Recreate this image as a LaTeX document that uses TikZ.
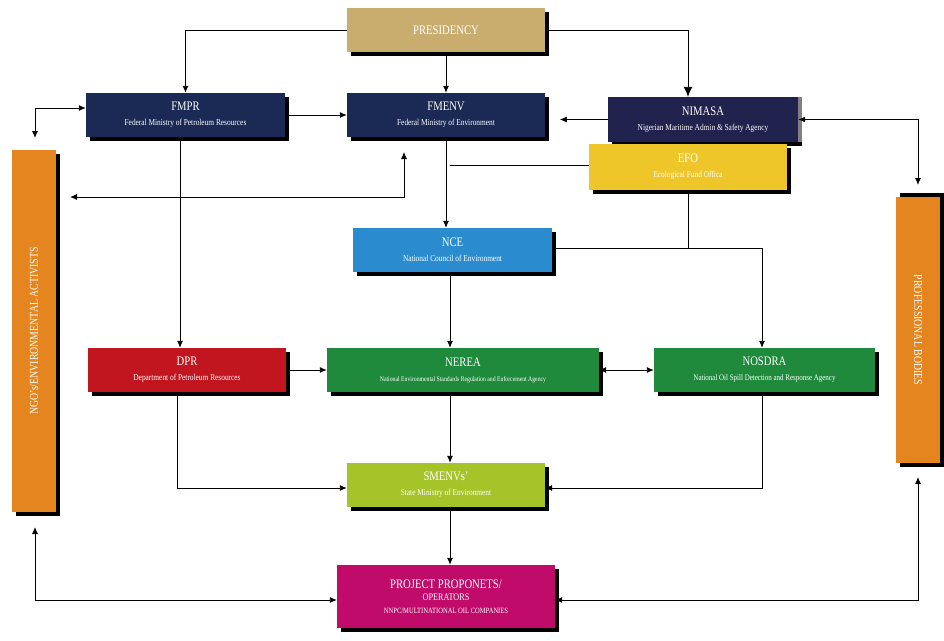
\documentclass[tikz,border=0pt]{standalone}
\usepackage{fontspec}
\setmainfont{Liberation Serif}[FakeStretch=0.82]
\usetikzlibrary{shadows,arrows.meta}
\definecolor{tan}{HTML}{C8AD6E}
\definecolor{navy}{HTML}{1B2A55}
\definecolor{navyb}{HTML}{22224F}
\definecolor{efo}{HTML}{EEC62A}
\definecolor{nce}{HTML}{2A8CCF}
\definecolor{dpr}{HTML}{C1161F}
\definecolor{grn}{HTML}{1F8A3C}
\definecolor{lime}{HTML}{A4C42A}
\definecolor{mag}{HTML}{C10B6A}
\definecolor{org}{HTML}{E5851F}
\begin{document}
\begin{tikzpicture}[x=1pt,y=-1pt,
 box/.style={draw=none,text=white,align=center,inner sep=0pt,
   drop shadow={shadow xshift=4pt,shadow yshift=-4pt,fill=black,opacity=1}},
 t/.style={font=\fontsize{13}{14}\selectfont},
 arr/.style={draw,line width=0.9pt,-{Latex[length=7pt,width=6pt]}},
 darr/.style={draw,line width=0.9pt,{Latex[length=7pt,width=6pt]}-{Latex[length=7pt,width=6pt]}},
 ln/.style={draw,line width=0.9pt}]
\useasboundingbox (0,0) rectangle (944,640);
\fill[white] (0,0) rectangle (944,640);
\newcommand{\sub}[1]{\\[3pt]{\fontsize{9}{10}\selectfont #1}}
\node[box,fill=tan,minimum width=198pt,minimum height=44pt] (pres) at (446,30) {\fontsize{13}{14}\selectfont PRESIDENCY};
\node[box,fill=navy,minimum width=199pt,minimum height=44pt] (fmpr) at (185.5,115) {\fontsize{13}{14}\selectfont FMPR\sub{Federal Ministry of Petroleum Resources}};
\node[box,fill=navy,minimum width=198pt,minimum height=44pt] (fmenv) at (446,115) {\fontsize{13}{14}\selectfont FMENV\sub{Federal Ministry of Environment}};
\node[box,fill=navyb,minimum width=190pt,minimum height=45pt,drop shadow={shadow xshift=4pt,shadow yshift=0pt,fill=gray,opacity=1}] (nimasa) at (703,119.5) {\fontsize{13}{14}\selectfont NIMASA\sub{Nigerian Maritime Admin \& Safety Agency}};
\node[box,fill=efo,minimum width=198pt,minimum height=46pt] (efo) at (688,167) {\fontsize{13}{14}\selectfont EFO\sub{Ecological Fund Offica}};
\node[box,fill=nce,minimum width=199pt,minimum height=44pt] (nce) at (452.5,250) {\fontsize{13}{14}\selectfont NCE\sub{National Council of Environment}};
\node[box,fill=dpr,minimum width=198pt,minimum height=44pt] (dpr) at (187,370) {\fontsize{13}{14}\selectfont DPR\sub{Department of Petroleum Resources}};
\node[box,fill=grn,minimum width=272pt,minimum height=44pt] (nerea) at (463,370) {\fontsize{13}{14}\selectfont NEREA\\[3pt]{\fontsize{7}{8}\selectfont National Environmental Standards Regulation and Enforcement Agency}};
\node[box,fill=grn,minimum width=221pt,minimum height=44pt] (nosdra) at (764.5,370) {\fontsize{13}{14}\selectfont NOSDRA\\[3pt]{\fontsize{8.5}{9}\selectfont National Oil Spill Detection and Response Agency}};
\node[box,fill=lime,minimum width=198pt,minimum height=44pt] (smenv) at (446,485) {\fontsize{13}{14}\selectfont SMENVs'\sub{State Ministry of Environment}};
\node[box,fill=mag,minimum width=218pt,minimum height=63pt] (proj) at (446,596.5) {\fontsize{13}{15}\selectfont PROJECT PROPONETS/\\OPERATORS\\[1pt]{\fontsize{8}{9}\selectfont NNPC/MULTINATIONAL OIL COMPANIES}};
\node[box,fill=org,minimum width=362pt,minimum height=44pt,rotate=90] (ngo) at (34,331) {\fontsize{12}{13}\selectfont NGO's/ENVIRONMENTAL ACTIVISTS};
\node[box,fill=org,minimum width=266pt,minimum height=44pt,rotate=-90,drop shadow={shadow xshift=4pt,shadow yshift=4pt,fill=black,opacity=1}] (prof) at (918,330) {\fontsize{12}{13}\selectfont PROFESSIONAL BODIES};
% coordinates
\coordinate (fu) at (404,152);
\coordinate (nl) at (70,197);
\coordinate (nt) at (35,138);
\coordinate (pt) at (918,185);
\coordinate (nb) at (35,527);
\coordinate (pb) at (918,477);
% connectors
\draw[arr] (pres.west) -| (fmpr.north);
\draw[arr] (pres.south) -- (fmenv.north);
\draw[arr,-{Latex[length=10pt,width=9pt]}] (pres.east) -| (nimasa.north -| 688,0);
\draw[arr] (fmpr.east) -- (fmenv.west);
\draw[arr] (nimasa.west) -- ++(-48,0);
\draw[arr] (fmenv.south) -- (nce.north -| fmenv.south);
\draw[ln] (efo.west |- 0,165) -- (450,165);
\draw[ln] (efo.south) -- (688,248);
\draw[arr] (nce.east |- 0,248) -| (nosdra.north -| 762,0);
\draw[arr] (nce.south -| 450,0) -- (nerea.north -| 450,0);
\draw[arr] (fmpr.south -| 180,0) -- (dpr.north -| 180,0);
\draw[darr] (nl) -| (fu);
\draw[darr] (nt) |- (fmpr.west |- 0,108);
\draw[darr] (nimasa.east) -| (pt);
\draw[arr] (dpr.east) -- (nerea.west);
\draw[darr] (nerea.east) -- (nosdra.west);
\draw[arr] (nerea.south -| 450,0) -- (smenv.north -| 450,0);
\draw[arr] (dpr.south -| 177,0) |- (smenv.west |- 0,488);
\draw[arr] (nosdra.south -| 762,0) |- (smenv.east |- 0,488);
\draw[arr] (smenv.south -| 450,0) -- (proj.north -| 450,0);
\draw[darr] (nb) |- (proj.west |- 0,600);
\draw[darr] (pb) |- (proj.east |- 0,600);
\end{tikzpicture}
\end{document}
